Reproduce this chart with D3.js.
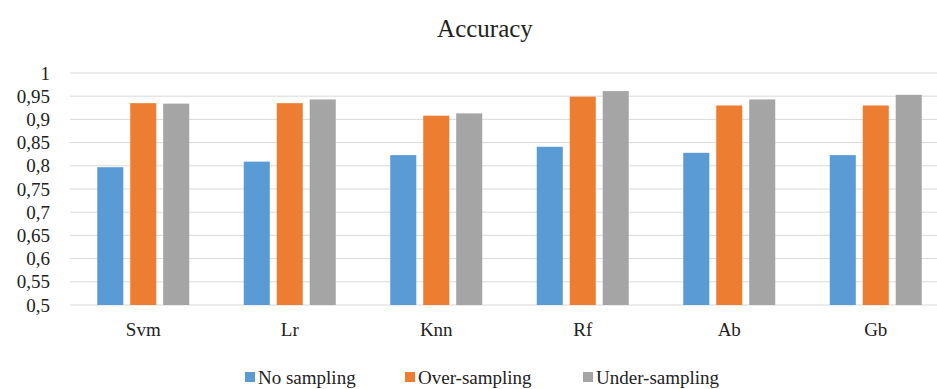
<!DOCTYPE html>
<html>
<head>
<meta charset="utf-8">
<script src="https://cdn.jsdelivr.net/npm/d3@7"></script>
<style>
  body { margin: 0; background: #fff; }
  svg, svg text { font-family: "Liberation Serif", "Times New Roman", Tinos, "DejaVu Serif", serif !important; }
</style>
</head>
<body>
<div id="chart"></div>
<script>
var svgWidth = 937;
var svgHeight = 389;

var categories = ["Svm", "Lr", "Knn", "Rf", "Ab", "Gb"];
var seriesNames = ["No sampling", "Over-sampling", "Under-sampling"];
var noSampling = [0.797, 0.809, 0.823, 0.841, 0.828, 0.823];
var overSampling = [0.935, 0.935, 0.908, 0.949, 0.930, 0.930];
var underSampling = [0.934, 0.943, 0.913, 0.961, 0.943, 0.953];
var yTicks = [0.5, 0.55, 0.6, 0.65, 0.7, 0.75, 0.8, 0.85, 0.9, 0.95, 1];
var colors = ["#5b9bd5", "#ed7d31", "#a5a5a5"];

var values = [noSampling, overSampling, underSampling];

var svg = d3.select("#chart")
  .append("svg")
  .attr("width", svgWidth)
  .attr("height", svgHeight);

// plot area runs past the right edge, like the cropped original
var x0 = d3.scaleBand().domain(categories).range([70, 949]);
var x1 = d3.scaleBand().domain(d3.range(3)).range([0, 92]).paddingInner(0.21);
var y = d3.scaleLinear().domain([0.5, 1]).range([305, 73]);

// gridlines
svg.append("g")
  .selectAll("line")
  .data(yTicks)
  .enter()
  .append("line")
  .attr("x1", 70)
  .attr("x2", svgWidth)
  .attr("y1", d => y(d))
  .attr("y2", d => y(d))
  .attr("stroke", "#d9d9d9")
  .attr("stroke-width", 1);

// y tick labels
var fmt = d => String(d).replace(".", ",");
var yAxis = svg.append("g")
  .attr("transform", "translate(70,0)")
  .call(d3.axisLeft(y).tickValues(yTicks).tickFormat(fmt).tickSize(0).tickPadding(20));
yAxis.select(".domain").remove();
yAxis.attr("font-family", null);
yAxis.selectAll("text")
  .attr("font-size", 19)
  .attr("fill", "#222");

// bars
var groups = svg.append("g")
  .selectAll("g")
  .data(categories)
  .enter()
  .append("g")
  .attr("transform", d => `translate(${x0(d) + (x0.bandwidth() - 92) / 2},0)`);

groups.selectAll("rect")
  .data((d, i) => values.map((s, k) => ({ k: k, v: s[i] })))
  .enter()
  .append("rect")
  .attr("x", d => x1(d.k))
  .attr("y", d => y(d.v))
  .attr("width", x1.bandwidth())
  .attr("height", d => y(0.5) - y(d.v))
  .attr("fill", d => colors[d.k]);

// x labels
var xAxis = svg.append("g")
  .attr("transform", "translate(0,305)")
  .call(d3.axisBottom(x0).tickSize(0).tickPadding(18));
xAxis.select(".domain").remove();
xAxis.attr("font-family", null);
xAxis.selectAll("text")
  .attr("font-size", 19)
  .attr("fill", "#222");

// title
svg.append("text")
  .attr("x", 485)
  .attr("y", 37)
  .attr("text-anchor", "middle")
  .attr("font-size", 25)
  .attr("fill", "#222")
  .text("Accuracy");

// legend
var legendX = [245, 405, 583];
var legend = svg.append("g")
  .selectAll("g")
  .data(seriesNames)
  .enter()
  .append("g")
  .attr("transform", (d, i) => `translate(${legendX[i]},0)`);

legend.append("rect")
  .attr("x", 0)
  .attr("y", 372)
  .attr("width", 10)
  .attr("height", 10)
  .attr("fill", (d, i) => colors[i]);

legend.append("text")
  .attr("x", 13)
  .attr("y", 384)
  .attr("font-size", 19)
  .attr("fill", "#222")
  .text(d => d);
</script>
</body>
</html>
